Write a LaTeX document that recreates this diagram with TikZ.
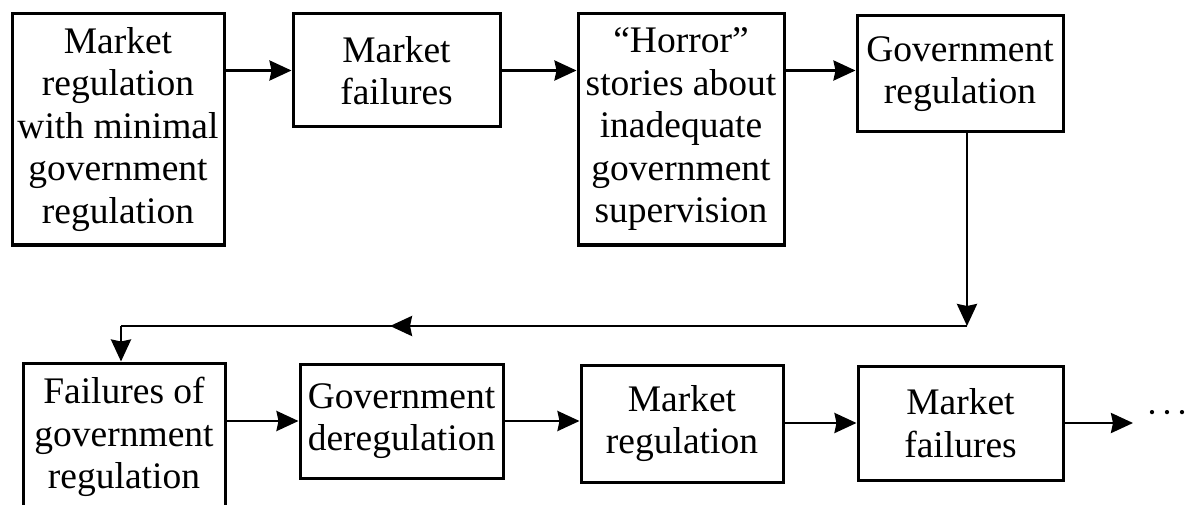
\documentclass[tikz,border=0pt]{standalone}
\usepackage{fontspec}
\setmainfont{Liberation Serif}
\usetikzlibrary{arrows.meta}
\begin{document}
\begin{tikzpicture}[x=1pt,y=-1pt,
  box/.style={draw, line width=3pt, inner sep=0pt, align=center,
    font=\fontsize{37.5}{42.5}\selectfont},
  arr/.style={line width=2.8pt, -{Stealth[length=22pt,width=20pt,inset=2pt]}},
  ln/.style={line width=2.8pt}]
\useasboundingbox (0,0) rectangle (1194,505);
\clip (0,0) rectangle (1194,505);
\fill[white] (0,0) rectangle (1194,505);
% top row
\node[box, minimum width=212pt, minimum height=231pt] (n1) at (118,129.5)
  {Market\\regulation\\with minimal\\government\\regulation};
\node[box, minimum width=207pt, minimum height=113pt] (n2) at (396.5,70.5)
  {Market\\failures};
\node[box, minimum width=206pt, minimum height=231pt] (n3) at (681,129.5)
  {“Horror”\\stories about\\inadequate\\government\\supervision};
\node[box, minimum width=206pt, minimum height=116pt] (n4) at (960,74)
  {Government\\regulation};
% bottom row
\node[box, minimum width=202pt, minimum height=148pt] (n5) at (124,437)
  {Failures of\\government\\regulation};
\node[box, minimum width=203pt, minimum height=114pt] (n6) at (401.5,421)
  {Government\\deregulation};
\node[box, minimum width=202pt, minimum height=117pt] (n7) at (682,423.5)
  {Market\\regulation};
\node[box, minimum width=205pt, minimum height=114pt] (n8) at (960.5,423)
  {Market\\failures};
\node[inner sep=0pt, anchor=west, font=\fontsize{36}{36}\selectfont] (dots) at (1146,417)
  {·\hspace{3pt}·\hspace{3pt}·};
% connectors
\coordinate (c1) at (967,326);
\coordinate (c2) at (121,326);
\coordinate (m) at (390,326);
\coordinate (e) at (1133,422);
\draw[arr] (n2.west -| n1.east) -- (n2.west);
\draw[arr] (n2.east) -- (n3.west |- n2.east);
\draw[arr] (n3.east |- n2.east) -- (n4.west |- n2.east);
\draw[arr] (c1 |- n4.south) -- (c1);
\draw[ln] (c1) -- (c2);
\draw[arr] (c1) -- (m);
\draw[arr] (c2) -- (c2 |- n5.north);
\draw[arr] (n6.west -| n5.east) -- (n6.west);
\draw[arr] (n6.east) -- (n7.west |- n6.east);
\draw[arr] (n7.east |- n8.west) -- (n8.west);
\draw[arr] (n8.east) -- (e |- n8.east);
\end{tikzpicture}
\end{document}
